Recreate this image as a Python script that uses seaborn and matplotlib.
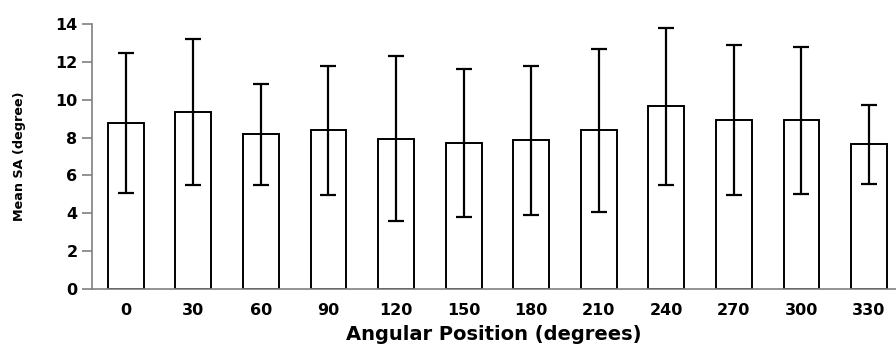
import matplotlib
matplotlib.use("Agg")
import matplotlib.pyplot as plt
import seaborn as sns
import pandas as pd

# Mean SA and standard deviation at each angular position
angles = ["0", "30", "60", "90", "120", "150", "180", "210", "240", "270", "300", "330"]
mean_sa = [8.77, 9.35, 8.17, 8.38, 7.94, 7.71, 7.85, 8.38, 9.65, 8.91, 8.91, 7.64]
sd_sa = [3.68, 3.85, 2.66, 3.40, 4.35, 3.93, 3.93, 4.30, 4.14, 3.96, 3.88, 2.10]

df = pd.DataFrame({"angle": angles, "mean": mean_sa, "sd": sd_sa})

sns.set_style("white")
plt.rcParams["font.family"] = ["DejaVu Sans"]
plt.rcParams["font.weight"] = "bold"
plt.rcParams["text.color"] = "black"
plt.rcParams["axes.labelcolor"] = "black"
plt.rcParams["xtick.labelcolor"] = "black"
plt.rcParams["ytick.labelcolor"] = "black"

fig = plt.figure(figsize=(8.96, 3.54), dpi=100)
ax = fig.add_axes([92 / 896, (354 - 289) / 354, (896 - 92) / 896, (289 - 24) / 354])

sns.barplot(data=df, x="angle", y="mean", order=angles, errorbar=None,
            color="white", edgecolor="black", linewidth=1.4, width=0.53, ax=ax)
ax.errorbar(range(len(angles)), df["mean"], yerr=df["sd"], fmt="none",
            ecolor="black", elinewidth=1.6, capsize=5.8, capthick=1.6)

ax.set_xlim(-0.5, 11.4)
ax.set_ylim(0, 14)
ax.set_yticks(range(0, 15, 2))

for side in ("top", "right"):
    ax.spines[side].set_visible(False)
for side in ("left", "bottom"):
    ax.spines[side].set_color("#808080")
    ax.spines[side].set_linewidth(1.2)

ax.tick_params(axis="y", direction="out", length=7, width=1.2, color="#808080",
               labelsize=11.5, pad=3.5, left=True, labelcolor="black")
ax.tick_params(axis="x", length=0, labelsize=11.5, pad=10, labelcolor="black")
for lab in ax.get_xticklabels() + ax.get_yticklabels():
    lab.set_fontweight("bold")

ax.set_xlabel("Angular Position (degrees)", fontsize=14, fontweight="bold",
              labelpad=5, color="black")
ax.set_ylabel("Mean SA (degree)", fontsize=9.2, fontweight="bold",
              labelpad=21, color="black")

fig.savefig("out.png", dpi=100)
